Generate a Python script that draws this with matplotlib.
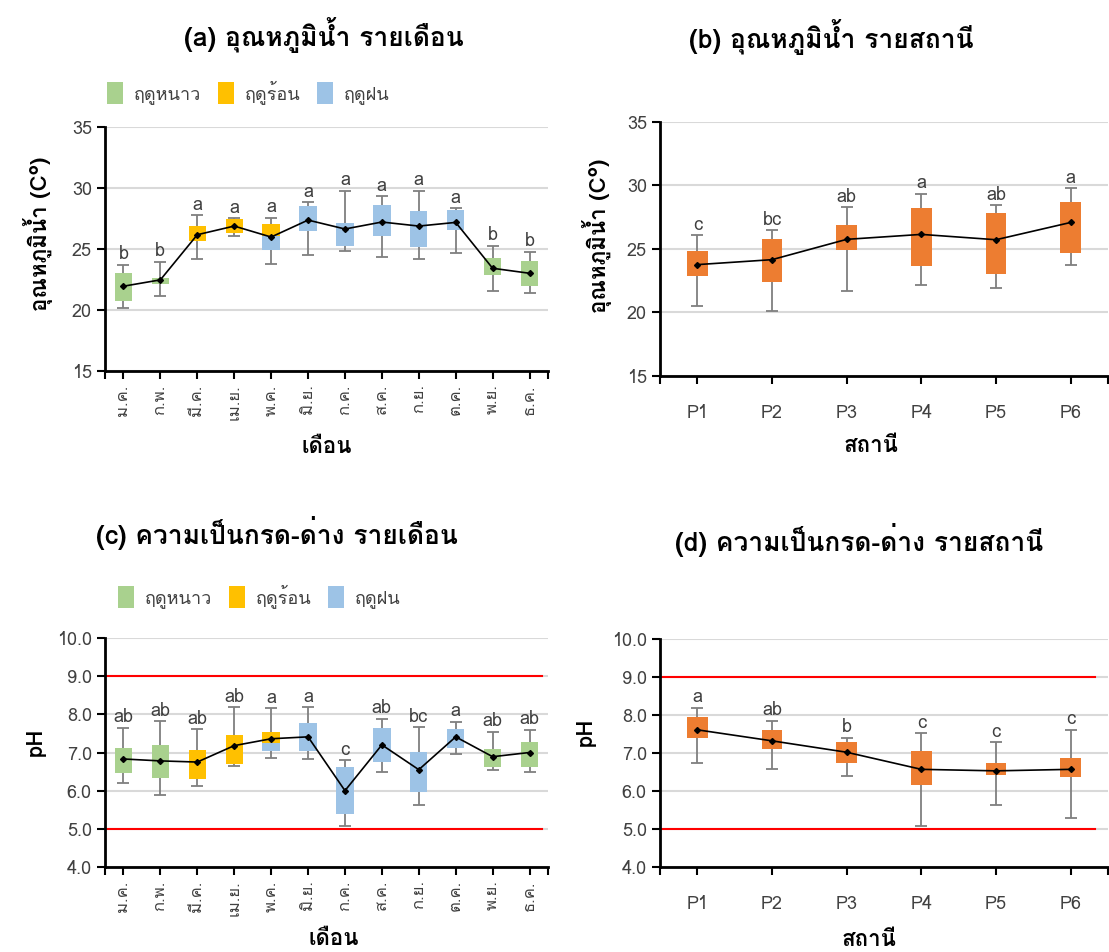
import matplotlib
matplotlib.use('Agg')
import matplotlib.pyplot as plt
from matplotlib import font_manager, ft2font
from matplotlib.patches import Patch

# find an installed family with Thai glyphs
thai_fams = []
for f in font_manager.fontManager.ttflist:
    try:
        cmap = ft2font.FT2Font(f.fname).get_charmap()
    except Exception:
        continue
    if 0x0E01 in cmap and f.name not in thai_fams:
        thai_fams.append(f.name)
plt.rcParams['font.family'] = thai_fams[:1] + ['DejaVu Sans']

# categories
months = ['ม.ค.', 'ก.พ.', 'มี.ค.', 'เม.ย.', 'พ.ค.', 'มิ.ย.',
          'ก.ค.', 'ส.ค.', 'ก.ย.', 'ต.ค.', 'พ.ย.', 'ธ.ค.']
stations = ['P1', 'P2', 'P3', 'P4', 'P5', 'P6']
season_names = ['ฤดูหนาว', 'ฤดูร้อน', 'ฤดูฝน']
# season of lower / upper half of each monthly box
season_lo = [0, 0, 1, 1, 2, 2, 2, 2, 2, 2, 0, 0]
season_hi = [0, 0, 1, 1, 1, 2, 2, 2, 2, 2, 0, 0]

# (a) water temperature by month
tm_wlo = [20.14, 21.17, 24.18, 26.06, 23.80, 24.51, 24.86, 24.32, 24.18, 24.67, 21.57, 21.40]
tm_q1 = [20.72, 22.17, 25.65, 26.31, 24.95, 26.50, 25.27, 26.06, 25.14, 26.58, 22.90, 21.95]
tm_med = [21.95, 22.47, 26.17, 26.88, 26.09, 27.37, 26.64, 27.21, 26.88, 27.18, 23.42, 23.01]
tm_q3 = [23.04, 22.63, 26.88, 27.45, 27.02, 28.54, 27.10, 28.62, 28.13, 28.22, 24.24, 24.02]
tm_whi = [23.69, 23.96, 27.78, 27.51, 27.56, 28.84, 29.77, 29.31, 29.77, 28.32, 25.27, 24.76]
tm_mean = [21.95, 22.47, 26.17, 26.88, 25.98, 27.37, 26.64, 27.21, 26.88, 27.18, 23.42, 23.01]
tm_lett = ['b', 'b', 'a', 'a', 'a', 'a', 'a', 'a', 'a', 'a', 'b', 'b']

# (b) water temperature by station
ts_wlo = [20.52, 20.10, 21.70, 22.17, 21.94, 23.72]
ts_q1 = [22.85, 22.38, 24.95, 23.64, 23.01, 24.69]
ts_med = [23.77, 24.16, 25.76, 26.15, 25.73, 27.09]
ts_q3 = [24.84, 25.81, 26.88, 28.22, 27.80, 28.74]
ts_whi = [26.07, 26.49, 28.27, 29.35, 28.43, 29.79]
ts_mean = [23.77, 24.16, 25.76, 26.15, 25.73, 27.09]
ts_lett = ['c', 'bc', 'ab', 'a', 'ab', 'a']

# (c) pH by month
pm_wlo = [6.21, 5.89, 6.13, 6.65, 6.85, 6.83, 5.08, 6.50, 5.63, 6.96, 6.54, 6.49]
pm_q1 = [6.45, 6.32, 6.31, 6.69, 7.03, 7.04, 5.38, 6.75, 5.96, 7.12, 6.61, 6.63]
pm_med = [6.83, 6.78, 6.75, 7.18, 7.26, 7.41, 6.00, 7.20, 6.55, 7.41, 6.89, 7.00]
pm_q3 = [7.13, 7.19, 7.07, 7.47, 7.54, 7.76, 6.62, 7.64, 7.02, 7.61, 7.08, 7.27]
pm_whi = [7.65, 7.82, 7.61, 8.19, 8.16, 8.18, 6.80, 7.88, 7.66, 7.80, 7.54, 7.59]
pm_mean = [6.83, 6.78, 6.75, 7.18, 7.36, 7.41, 6.00, 7.20, 6.55, 7.41, 6.89, 7.00]
pm_lett = ['ab', 'ab', 'ab', 'ab', 'a', 'a', 'c', 'ab', 'bc', 'a', 'ab', 'ab']

# (d) pH by station
ps_wlo = [6.75, 6.58, 6.40, 5.07, 5.62, 5.29]
ps_q1 = [7.40, 7.11, 6.73, 6.16, 6.43, 6.37]
ps_med = [7.61, 7.32, 7.02, 6.57, 6.53, 6.57]
ps_q3 = [7.96, 7.60, 7.29, 7.06, 6.74, 6.88]
ps_whi = [8.19, 7.85, 7.40, 7.52, 7.28, 7.61]
ps_mean = [7.61, 7.32, 7.02, 6.57, 6.53, 6.57]
ps_lett = ['a', 'ab', 'b', 'c', 'c', 'c']

ph_limits = [5.0, 9.0]

season_colors = ['#a9d18e', '#ffc000', '#9dc3e6']
station_color = '#ed7d31'
txt_col = '#404040'

W, H = 1109, 952
fig = plt.figure(figsize=(W / 100, H / 100), dpi=100)


def px_axes(left, top, right, bottom):
    return fig.add_axes([left / W, 1 - bottom / H, (right - left) / W, (bottom - top) / H])


def draw_panel(ax, labels, wlo, q1, med, q3, whi, mean, letters, c_lo, c_hi, width, cap):
    x = list(range(len(labels)))
    mid = [(a + b) / 2 for a, b in zip(wlo, whi)]
    half = [(b - a) / 2 for a, b in zip(wlo, whi)]
    ax.errorbar(x, mid, yerr=half, fmt='none', ecolor='#7f7f7f',
                elinewidth=1.3, capsize=cap, capthick=1.3, zorder=2)
    ax.bar(x, [m - a for a, m in zip(q1, med)], bottom=q1, width=width,
           color=c_lo, linewidth=0, zorder=3)
    ax.bar(x, [b - m for m, b in zip(med, q3)], bottom=med, width=width,
           color=c_hi, linewidth=0, zorder=3)
    ax.plot(x, mean, color='black', lw=1.2, marker='D', ms=3, zorder=4)
    for xi, yi, t in zip(x, whi, letters):
        ax.annotate(t, (xi, yi), xytext=(0, 4), textcoords='offset points',
                    ha='center', va='baseline', fontsize=13, color=txt_col)
    ax.set_xlim(-0.5, len(labels) - 0.5)
    ax.set_xticks(x)
    ax.set_xticks([-0.5, len(labels) - 0.5], minor=True)
    ax.spines['top'].set_visible(False)
    ax.spines['right'].set_visible(False)
    ax.spines['left'].set_linewidth(2)
    ax.spines['bottom'].set_linewidth(2)
    ax.yaxis.grid(True, color='#d9d9d9', lw=1.5)
    ax.set_axisbelow(True)
    ax.tick_params(axis='both', which='both', direction='out', length=6, width=1.5,
                   colors='black', labelcolor=txt_col, labelsize=13)


# (a)
ax_a = px_axes(105, 127, 548, 371)
draw_panel(ax_a, months, tm_wlo, tm_q1, tm_med, tm_q3, tm_whi, tm_mean, tm_lett,
           [season_colors[s] for s in season_lo], [season_colors[s] for s in season_hi], 0.47, 4)
ax_a.set_ylim(15, 35)
ax_a.set_yticks([15, 20, 25, 30, 35])
ax_a.set_xticklabels(months, rotation=90, fontsize=12)

# (b)
ax_b = px_axes(660, 122, 1108, 376)
draw_panel(ax_b, stations, ts_wlo, ts_q1, ts_med, ts_q3, ts_whi, ts_mean, ts_lett,
           station_color, station_color, 0.28, 4)
ax_b.set_ylim(15, 35)
ax_b.set_yticks([15, 20, 25, 30, 35])
ax_b.set_xticklabels(stations)
ax_b.tick_params(axis='x', pad=14)

# (c)
ax_c = px_axes(105, 638, 548, 867)
draw_panel(ax_c, months, pm_wlo, pm_q1, pm_med, pm_q3, pm_whi, pm_mean, pm_lett,
           [season_colors[s] for s in season_lo], [season_colors[s] for s in season_hi], 0.47, 4)
ax_c.set_ylim(4, 10)
ax_c.set_yticks([4, 5, 6, 7, 8, 9, 10])
ax_c.set_yticklabels(['%.1f' % v for v in [4, 5, 6, 7, 8, 9, 10]])
ax_c.set_xticklabels(months, rotation=90, fontsize=12)
for lim in ph_limits:
    ax_c.axhline(lim, xmin=0, xmax=0.986, color='red', lw=1.5, zorder=1.5)

# (d)
ax_d = px_axes(660, 639, 1108, 867)
draw_panel(ax_d, stations, ps_wlo, ps_q1, ps_med, ps_q3, ps_whi, ps_mean, ps_lett,
           station_color, station_color, 0.28, 4)
ax_d.set_ylim(4, 10)
ax_d.set_yticks([4, 5, 6, 7, 8, 9, 10])
ax_d.set_yticklabels(['%.1f' % v for v in [4, 5, 6, 7, 8, 9, 10]])
ax_d.set_xticklabels(stations)
ax_d.tick_params(axis='x', pad=14)
for lim in ph_limits:
    ax_d.axhline(lim, xmin=0, xmax=0.972, color='red', lw=1.5, zorder=1.5)

# titles and axis labels
def ftext(x, y, s, **kw):
    fig.text(x / W, 1 - y / H, s, ha='center', va='center', **kw)


ftext(324, 35, '(a) อุณหภูมิน้ำ รายเดือน', fontsize=19, fontweight='bold', color='black')
ftext(831, 37, '(b) อุณหภูมิน้ำ รายสถานี', fontsize=19, fontweight='bold', color='black')
ftext(277, 533, '(c) ความเป็นกรด-ด่าง รายเดือน', fontsize=19, fontweight='bold', color='black')
ftext(859, 540, '(d) ความเป็นกรด-ด่าง รายสถานี', fontsize=19, fontweight='bold', color='black')

ftext(38, 234, 'อุณหภูมิน้ำ (C°)', fontsize=16, fontweight='bold', rotation=90)
ftext(597, 236, 'อุณหภูมิน้ำ (C°)', fontsize=16, fontweight='bold', rotation=90)
ftext(36, 742, 'pH', fontsize=16, fontweight='bold', rotation=90)
ftext(586, 732, 'pH', fontsize=16, fontweight='bold', rotation=90)

ftext(327, 447, 'เดือน', fontsize=16, fontweight='bold')
ftext(871, 446, 'สถานี', fontsize=16, fontweight='bold')
ftext(334, 939, 'เดือน', fontsize=16, fontweight='bold')
ftext(869, 940, 'สถานี', fontsize=16, fontweight='bold')

# season legends
handles = [Patch(facecolor=c, edgecolor='none') for c in season_colors]
for xl, yc in [(107, 92), (118, 596)]:
    fig.legend(handles, season_names, loc='center left', bbox_to_anchor=(xl / W, 1 - yc / H),
               ncol=3, frameon=False, fontsize=13, handlelength=0.9, handleheight=1.5,
               handletextpad=0.6, columnspacing=0.9, borderpad=0, borderaxespad=0,
               labelcolor=txt_col)

fig.savefig('out.png', dpi=100)
